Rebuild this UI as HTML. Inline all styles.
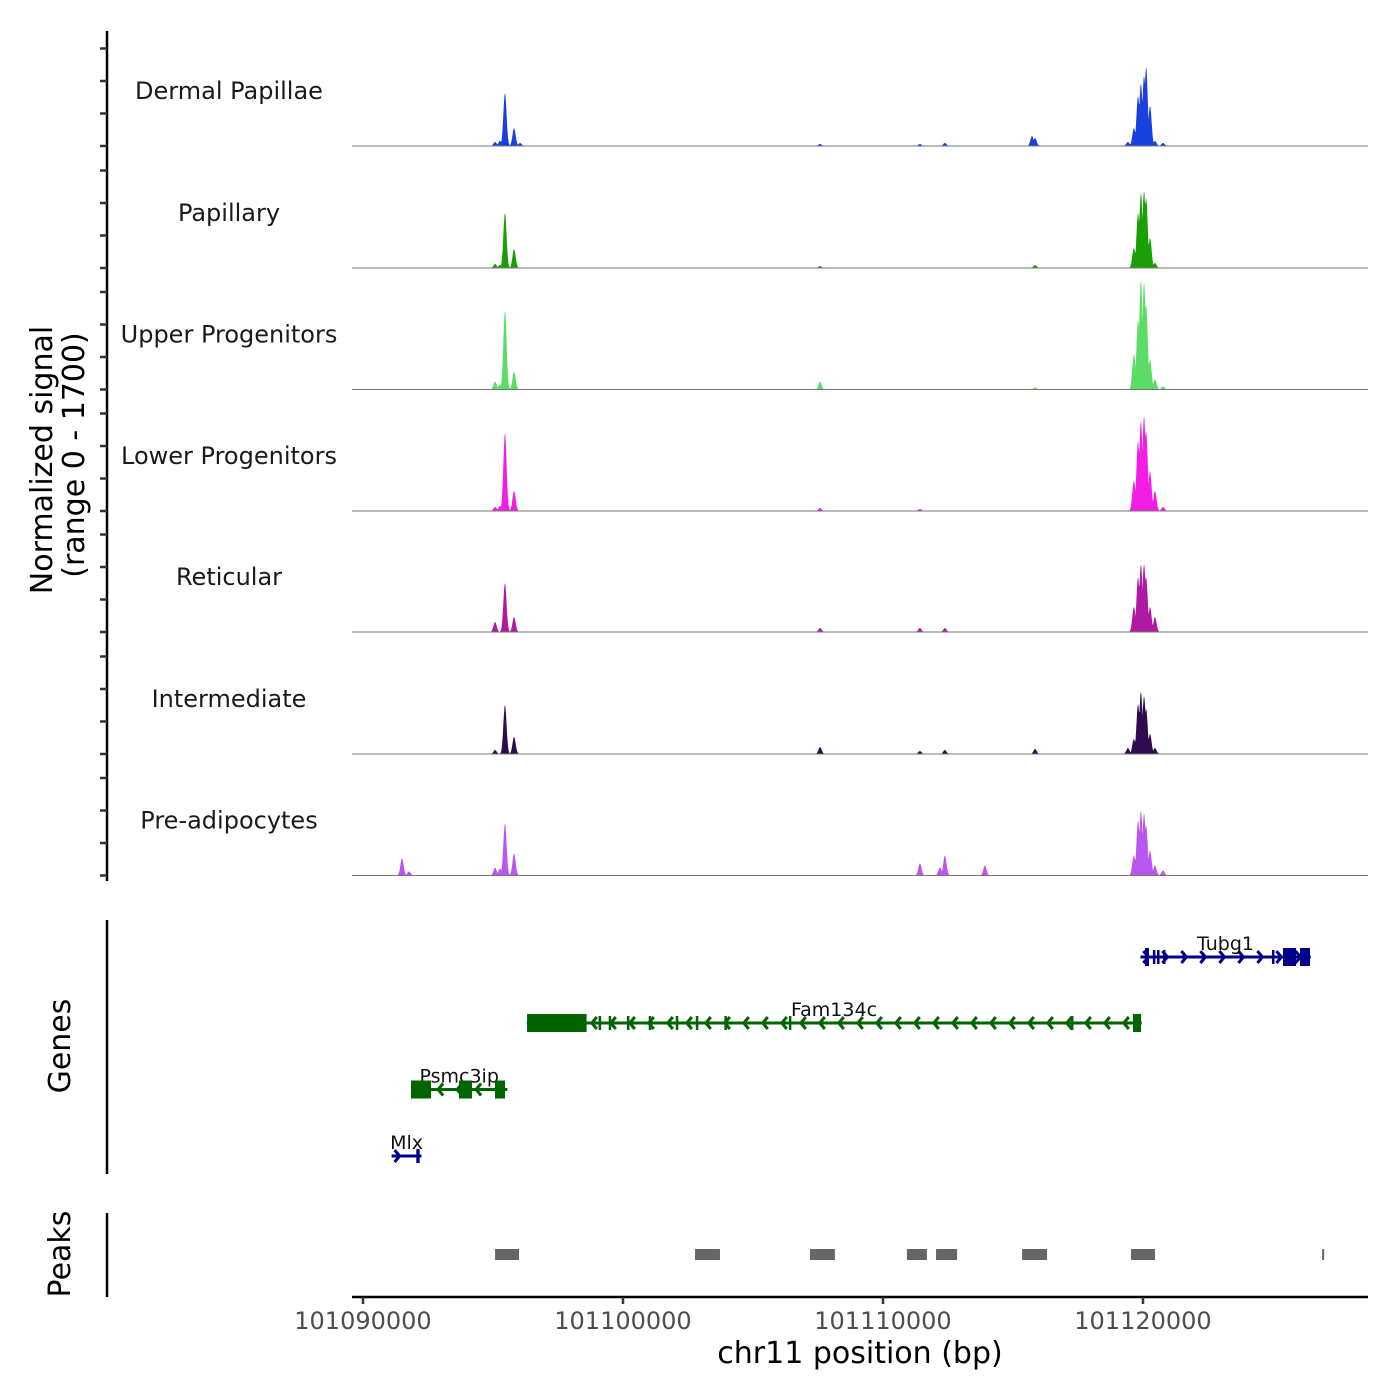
<!DOCTYPE html>
<html><head><meta charset="utf-8"><style>
body{margin:0;background:#fff}
svg{display:block;font-family:"DejaVu Sans","Liberation Sans",sans-serif}
</style></head><body>
<svg id="c" width="1400" height="1400" viewBox="0 0 1400 1400">
<rect width="1400" height="1400" fill="#fff"/>
<g id="tracks"></g>
<g id="genes"></g>
<g id="peaks"></g>
<g id="axes"></g>
</svg>
<script>
const trackNames=["Dermal Papillae","Papillary","Upper Progenitors","Lower Progenitors","Reticular","Intermediate","Pre-adipocytes"];
const trackColors=["#1740dc","#1a9e05","#5cdc66","#f21ee6","#ae1aa2","#2e0c4d","#bb55f0"];
const peakPos=[101091500,101091770,101095080,101095270,101095460,101095810,101096040,101107580,101111420,101112190,101112380,101113920,101115730,101115850,101119420,101119650,101119810,101119920,101120040,101120120,101120270,101120460,101120770];
const sigDermal=[0,0,56,70,740,250,42,28,28,0,42,0,140,110,56,250,700,870,980,1105,560,70,42];
const sigPapillary=[0,0,56,42,770,265,0,28,0,0,0,0,0,42,0,280,770,1050,1080,980,420,70,0];
const sigUpper=[0,0,110,70,1105,250,0,110,0,0,0,0,0,28,0,490,980,1540,1510,1190,420,140,42];
const sigLower=[0,0,56,70,1090,280,0,42,28,0,0,0,0,0,0,420,980,1260,1330,1120,560,280,56];
const sigReticular=[0,0,140,0,685,210,0,56,56,0,56,0,0,0,0,350,770,950,950,770,350,210,0];
const sigIntermediate=[0,0,56,0,685,240,0,98,42,0,56,0,0,70,84,210,700,870,810,630,280,84,0];
const sigPreadipo=[240,56,110,98,730,310,0,0,170,110,280,140,0,0,0,280,770,910,870,700,350,140,70];
const signals=[sigDermal,sigPapillary,sigUpper,sigLower,sigReticular,sigIntermediate,sigPreadipo];
const xTicks=[101090000,101100000,101110000,101120000];
const peakStarts=[101095080,101102770,101107190,101110920,101112040,101115350,101119540,101126890];
const peakEnds=[101096000,101103730,101108150,101111690,101112850,101116310,101120460,101126930];
const geneNames=["Tubg1","Fam134c","Psmc3ip","Mlx"];
const geneStart=[101119900,101096300,101091850,101091100];
const geneEnd=[101126450,101119950,101095550,101092250];
const geneStrand=[1,-1,-1,1];
const geneRow=[0,1,2,3];
const geneColor=["#00008b","#006400","#006400","#00008b"];
const exonGene=[0,0,0,0,0,0,0,1,1,1,1,1,1,1,1,1,1,1,2,2,2,2,2,3];
const exonStart=[101120077,101120380,101120540,101120770,101124960,101125385,101126038,101096310,101099060,101099450,101100150,101100990,101102030,101102800,101103900,101106380,101117230,101119615,101091846,101092070,101093692,101095077,101095230,101092050];
const exonEnd=[101120231,101120460,101120620,101120850,101125040,101125885,101126423,101098600,101099160,101099540,101100240,101101080,101102120,101102890,101103940,101106460,101117300,101119923,101092615,101092230,101094192,101095462,101095330,101092180];
const exonThick=[1,0,0,0,0,1,1,1,0,0,0,0,0,0,0,0,0,1,1,0,1,1,0,0];

const NS="http://www.w3.org/2000/svg";
const X0=101089577, PXPB=260/10000, PL=352, PR=1368;
const xs=v=>PL+(v-X0)*PXPB;
const bases=[146,268,389.5,511,632,754,875.5], TH=121.5, MAXV=1700;
function mk(tag,attrs,parent){const e=document.createElementNS(NS,tag);for(const k in attrs)e.setAttribute(k,attrs[k]);parent.appendChild(e);return e;}
const gT=document.getElementById('tracks');
signals.forEach((s,t)=>{
  const b=bases[t];
  let d="M"+PL+","+b;
  for(let x=PL;x<=PR;x+=0.5){
    let v=0;
    for(let i=0;i<peakPos.length;i++){
      const dx=(x-xs(peakPos[i]))/1.6;
      v=Math.max(v,s[i]*Math.exp(-dx*dx/2));
    }
    d+="L"+x+","+(b-v/MAXV*TH).toFixed(2);
  }
  d+="L"+PR+","+b+"Z";
  const p=mk('path',{d:d,fill:trackColors[t]},gT);
  
  
  const l=mk('line',{x1:PL,x2:PR,y1:b,y2:b,stroke:"#777","stroke-width":1},gT);
  
  
  const tx=mk('text',{x:229,y:b-47,"text-anchor":"middle","font-size":24,fill:"#1a1a1a"},gT);
  tx.textContent=trackNames[t];
  
  
});
const gG=document.getElementById('genes');
const rowY=[957,1023,1089.5,1156];
geneNames.forEach((n,g)=>{
  const y=rowY[geneRow[g]], c=geneColor[g], a=xs(geneStart[g]), e=xs(geneEnd[g]);
  const ln=mk('line',{x1:a,x2:e,y1:y,y2:y,stroke:c,"stroke-width":3},gG);
  
  
  for(let x=a+8;x<e-3;x+=19){
    const dir=geneStrand[g];
    const ch=mk('path',{d:`M${x-5*dir},${y-6}L${x},${y}L${x-5*dir},${y+6}`,stroke:c,"stroke-width":3,fill:"none"},gG);
    
    
  }
  const tx=mk('text',{x:(a+e)/2,y:y-7,"text-anchor":"middle","font-size":19,fill:"#111"},gG);
  if(g===1)tx.setAttribute('x',834);
  tx.textContent=n;
  
  
});
exonGene.forEach((g,i)=>{
  const y=rowY[geneRow[g]], a=xs(exonStart[i]), w=Math.max(2.5,xs(exonEnd[i])-a), h=exonThick[i]?18:14;
  const r=mk('rect',{x:a,y:y-h/2,width:w,height:h,fill:geneColor[g]},gG);
  
  
});
const gP=document.getElementById('peaks');
peakStarts.forEach((s,i)=>{
  const a=xs(s), w=Math.max(2,xs(peakEnds[i])-a);
  const r=mk('rect',{x:a,y:1249,width:w,height:11,fill:"#666"},gP);
  
  
});
const gA=document.getElementById('axes');
mk('line',{x1:107,x2:107,y1:31,y2:881,stroke:"#000","stroke-width":2.5},gA);
bases.forEach(b=>{[0,32.5,65,97.5].forEach(o=>{mk('line',{x1:100,x2:107,y1:b-o,y2:b-o,stroke:"#333","stroke-width":2.5},gA);});});
mk('line',{x1:107,x2:107,y1:920,y2:1174,stroke:"#000","stroke-width":2.5},gA);
mk('line',{x1:107,x2:107,y1:1213,y2:1297,stroke:"#000","stroke-width":2.5},gA);
mk('line',{x1:352,x2:1368,y1:1297,y2:1297,stroke:"#000","stroke-width":2.5},gA);
xTicks.forEach(v=>{
  const x=xs(v);
  mk('line',{x1:x,x2:x,y1:1297,y2:1304,stroke:"#333","stroke-width":2.5},gA);
  const t=mk('text',{x:x,y:1329,"text-anchor":"middle","font-size":24,fill:"#4d4d4d"},gA);
  t.textContent=v;
  
  
});
</script>
<svg style="position:absolute;left:0;top:0" width="1400" height="1400">
<text x="860" y="1363" text-anchor="middle" font-size="30" fill="#000" font-family="DejaVu Sans,Liberation Sans,sans-serif">chr11 position (bp)</text>
<text transform="translate(52,460) rotate(-90)" text-anchor="middle" font-size="30" font-family="DejaVu Sans,Liberation Sans,sans-serif">Normalized signal</text>
<text transform="translate(84,455) rotate(-90)" text-anchor="middle" font-size="30" font-family="DejaVu Sans,Liberation Sans,sans-serif">(range 0 - 1700)</text>
<text transform="translate(70,1046) rotate(-90)" text-anchor="middle" font-size="30" font-family="DejaVu Sans,Liberation Sans,sans-serif">Genes</text>
<text transform="translate(70,1254) rotate(-90)" text-anchor="middle" font-size="30" font-family="DejaVu Sans,Liberation Sans,sans-serif">Peaks</text>
</svg>
</body></html>
